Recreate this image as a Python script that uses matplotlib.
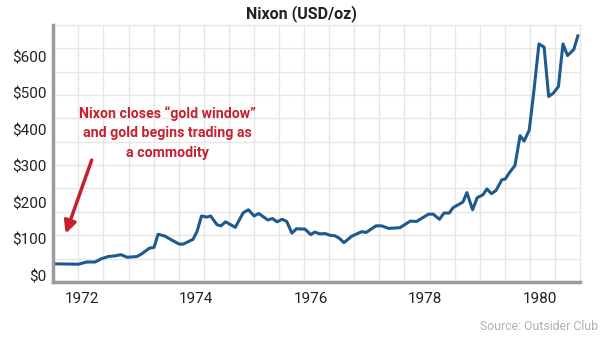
import numpy as np
import matplotlib
matplotlib.use("Agg")
import matplotlib.pyplot as plt

# gold price, USD per ounce (decimal year, price)
years = [1971.51, 1971.94, 1972.08, 1972.23, 1972.34, 1972.46, 1972.58, 1972.68,
         1972.79, 1972.96, 1973.04, 1973.18, 1973.26, 1973.33, 1973.45, 1973.57,
         1973.70, 1973.77, 1973.94, 1974.01, 1974.09, 1974.18, 1974.25, 1974.36,
         1974.43, 1974.51, 1974.68, 1974.82, 1974.91, 1975.01, 1975.09, 1975.25,
         1975.33, 1975.41, 1975.50, 1975.58, 1975.67, 1975.75, 1975.90, 1976.00,
         1976.07, 1976.16, 1976.25, 1976.34, 1976.42, 1976.50, 1976.58, 1976.72,
         1976.89, 1976.97, 1977.14, 1977.24, 1977.36, 1977.56, 1977.74, 1977.85,
         1978.06, 1978.14, 1978.25, 1978.33, 1978.42, 1978.49, 1978.66, 1978.73,
         1978.83, 1978.91, 1979.01, 1979.08, 1979.16, 1979.24, 1979.34, 1979.40,
         1979.48, 1979.57, 1979.66, 1979.73, 1979.82, 1979.90, 1979.99, 1980.08,
         1980.16, 1980.24, 1980.33, 1980.41, 1980.49, 1980.60, 1980.67]
prices = [33, 32, 38, 38, 47, 53, 55, 58,
          51, 53, 60, 76, 78, 114, 109, 98,
          87, 87, 100, 121, 164, 161, 164, 140,
          137, 148, 133, 173, 181, 164, 171, 153,
          157, 148, 155, 149, 117, 129, 128, 113,
          120, 115, 116, 111, 110, 103, 91, 109,
          121, 119, 137, 137, 130, 132, 150, 149,
          169, 169, 155, 172, 172, 187, 202, 228,
          181, 214, 222, 238, 225, 234, 263, 265,
          284, 302, 384, 369, 399, 504, 635, 626,
          491, 500, 518, 635, 603, 620, 657]

ytick_vals = [0, 100, 200, 300, 400, 500, 600]
xtick_vals = [1972, 1974, 1976, 1978, 1980]

plt.rcParams["font.family"] = ["Roboto", "DejaVu Sans"]

line_blue = "#1d5a8f"
red = "#c6202e"

fig = plt.figure(figsize=(6, 3.38), dpi=100)
ax = fig.add_axes([0.0888, 0.166, 0.8779, 0.760])

xlim = (1971.498, 1980.708)
ylim = (-16.4, 686.7)
ax.set_xlim(*xlim)
ax.set_ylim(*ylim)

# background grid: fixed number of cells, independent of the tick labels
for gx in np.linspace(*xlim, 22):
    ax.axvline(gx, color="#e6e6e6", lw=1, zorder=0, clip_on=False)
for gy in np.linspace(*ylim, 12):
    ax.axhline(gy, color="#e6e6e6", lw=1, zorder=0, clip_on=False)

ax.plot(years, prices, color=line_blue, lw=2.2, zorder=3,
        solid_joinstyle="round")

for side in ["top", "right"]:
    ax.spines[side].set_visible(False)
for side in ["left", "bottom"]:
    ax.spines[side].set_color("#9b9b9b")
    ax.spines[side].set_linewidth(2.5)
    ax.spines[side].set_zorder(4)

ax.set_yticks(ytick_vals)
ax.set_yticklabels([f"${v}" for v in ytick_vals])
ax.set_xticks(xtick_vals)
ax.set_xticklabels([str(v) for v in xtick_vals])
ax.tick_params(length=0, colors="#222222", labelsize=11)
ax.tick_params(axis="y", pad=5)
ax.tick_params(axis="x", pad=7)

fig.text(0.503, 0.96, "Nixon (USD/oz)", ha="center", va="center",
         color="#222222", fontsize=11.5, fontweight="bold")

ax.text(1973.5, 391, "Nixon closes \u201cgold window\u201d\nand gold begins trading as\na commodity",
        ha="center", va="center", color=red, linespacing=1.5, zorder=5,
        fontsize=10.2, fontweight="bold")
ax.annotate("", xy=(1971.715, 116), xytext=(1972.17, 317),
            arrowprops=dict(arrowstyle="-|>", color=red, lw=2.5,
                            mutation_scale=18, shrinkA=0, shrinkB=0),
            zorder=5)

fig.text(0.997, 0.033, "Source: Outsider Club", ha="right", va="center",
         color="#b0b0b0", fontsize=8.8)

fig.savefig("out.png", dpi=100)
